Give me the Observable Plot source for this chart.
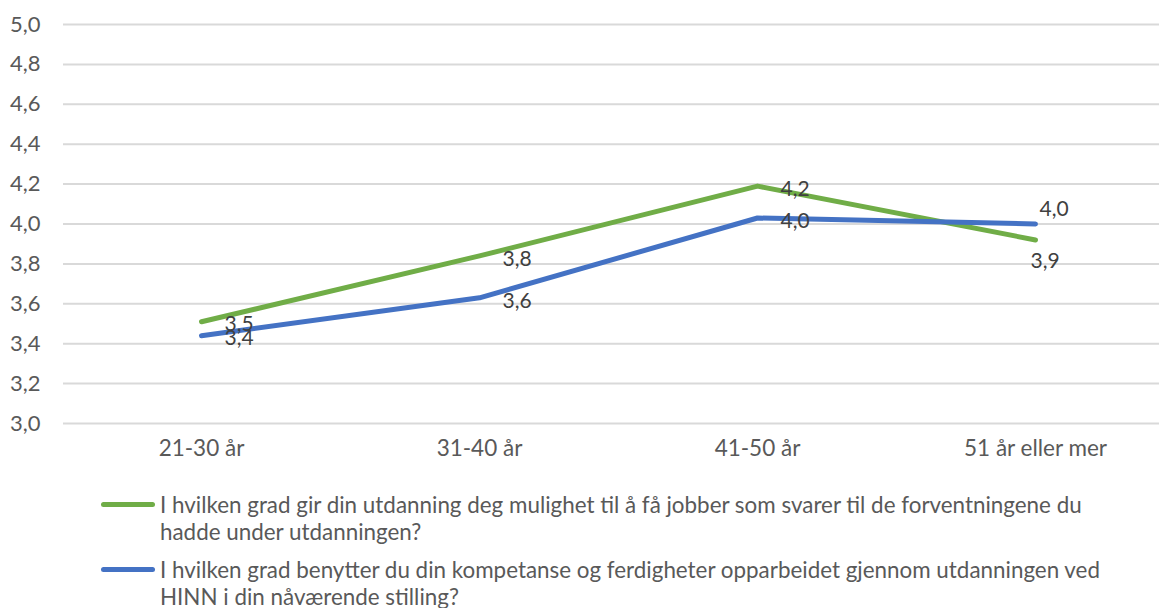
<!DOCTYPE html>
<html>
<head>
<meta charset="utf-8">
<script src="https://cdn.jsdelivr.net/npm/d3@7"></script>
<script src="https://cdn.jsdelivr.net/npm/@observablehq/plot@0.6"></script>
<style>
  html, body { margin: 0; padding: 0; background: #fff; }
  body { width: 1159px; height: 608px; overflow: hidden; font-family: Lato, "Open Sans", sans-serif; }
  #chart svg { display: block; }
  .legend { position: absolute; left: 0; top: 0; width: 1159px; }
  .item { position: absolute; left: 160px; color: #595959; font-size: 22.4px; line-height: 27px; white-space: nowrap; }
  .swatch { position: absolute; left: -59px; top: 11px; width: 54px; height: 5px; border-radius: 3px; }
</style>
</head>
<body>
<div id="chart"></div>
<div class="legend" id="legend"></div>
<script>
const categories = ["21-30 år", "31-40 år", "41-50 år", "51 år eller mer"];
const greenValues = [3.51, 3.84, 4.19, 3.92];
const blueValues = [3.44, 3.63, 4.03, 4.00];
const seriesNames = [
  "I hvilken grad gir din utdanning deg mulighet til å få jobber som svarer til de forventningene du|hadde under utdanningen?",
  "I hvilken grad benytter du din kompetanse og ferdigheter opparbeidet gjennom utdanningen ved|HINN i din nåværende stilling?"
];
const seriesColors = ["#70AD47", "#4472C4"];
const yTicks = [3.0, 3.2, 3.4, 3.6, 3.8, 4.0, 4.2, 4.4, 4.6, 4.8, 5.0];

const fmt = v => d3.format(".1f")(v).replace(".", ",");
const data = [];
categories.forEach((c, i) => {
  data.push({cat: c, value: greenValues[i], series: 0});
  data.push({cat: c, value: blueValues[i], series: 1});
});
const last = categories[categories.length - 1];

const chart = Plot.plot({
  width: 1159,
  height: 470,
  marginTop: 24,
  marginBottom: 47,
  marginLeft: 63,
  marginRight: 0,
  style: { fontFamily: "Lato, 'Open Sans', sans-serif", fontSize: "22px", color: "#595959", background: "#fff" },
  x: { type: "point", domain: categories, range: [200, 1036], padding: 0, label: null },
  y: { domain: [3, 5], label: null },
  marks: [
    Plot.gridY(yTicks, { stroke: "#d9d9d9", strokeOpacity: 1, strokeWidth: 2 }),
    Plot.axisY(yTicks, { tickFormat: fmt, tickSize: 0, tickPadding: 23, fill: "#595959", label: null, fontSize: 22 }),
    Plot.axisX({ tickSize: 0, tickPadding: 17, fill: "#595959", label: null, fontSize: 22.5 }),
    Plot.line(data.filter(d => d.series === 0), { x: "cat", y: "value", stroke: seriesColors[0], strokeWidth: 5, strokeLinecap: "round", strokeLinejoin: "round" }),
    Plot.line(data.filter(d => d.series === 1), { x: "cat", y: "value", stroke: seriesColors[1], strokeWidth: 5, strokeLinecap: "round", strokeLinejoin: "round" }),
    Plot.text(data.filter(d => d.cat !== last), { x: "cat", y: "value", text: d => fmt(d.value), textAnchor: "start", dx: 23, dy: 3, fill: "#404040", fontSize: 21 }),
    Plot.text(data.filter(d => d.cat === last && d.series === 1), { x: "cat", y: "value", text: d => fmt(d.value), textAnchor: "start", dx: 4, dy: -15, fill: "#404040", fontSize: 21 }),
    Plot.text(data.filter(d => d.cat === last && d.series === 0), { x: "cat", y: "value", text: d => fmt(d.value), textAnchor: "start", dx: -5, dy: 21, fill: "#404040", fontSize: 21 })
  ]
});
document.getElementById("chart").appendChild(chart);

const legend = document.getElementById("legend");
const tops = [491, 556];
seriesNames.forEach((name, i) => {
  const item = document.createElement("div");
  item.className = "item";
  item.style.top = tops[i] + "px";
  const sw = document.createElement("span");
  sw.className = "swatch";
  sw.style.background = seriesColors[i];
  item.appendChild(sw);
  name.split("|").forEach((line, j) => {
    if (j > 0) item.appendChild(document.createElement("br"));
    item.appendChild(document.createTextNode(line));
  });
  legend.appendChild(item);
});
</script>
</body>
</html>
